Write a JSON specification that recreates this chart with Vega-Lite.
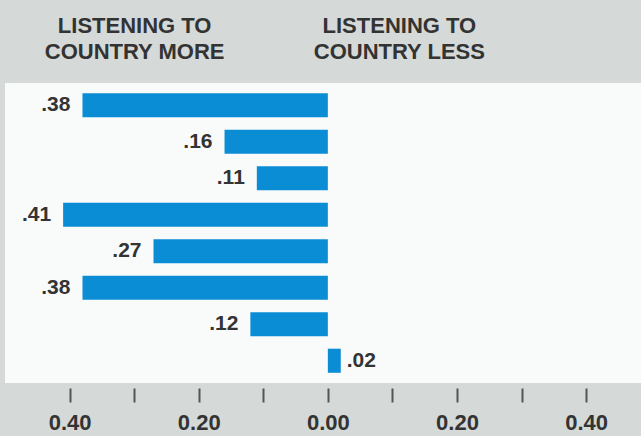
{
  "$schema": "https://vega.github.io/schema/vega-lite/v6.json",
  "width": 636,
  "height": 300,
  "autosize": {"type": "none"},
  "padding": {"left": 5, "top": 83, "right": 0, "bottom": 53},
  "background": "#d5d9d8",
  "config": {
    "view": {"fill": "#f9fbfb", "stroke": null},
    "font": "Liberation Sans"
  },
  "data": {
    "values": [
      {"row": 1, "value": -0.38},
      {"row": 2, "value": -0.16},
      {"row": 3, "value": -0.11},
      {"row": 4, "value": -0.41},
      {"row": 5, "value": -0.27},
      {"row": 6, "value": -0.38},
      {"row": 7, "value": -0.12},
      {"row": 8, "value": 0.02}
    ]
  },
  "transform": [
    {"calculate": "replace(format(abs(datum.value), '.2f'), '0.', '.')", "as": "label"}
  ],
  "encoding": {
    "y": {
      "field": "row",
      "type": "ordinal",
      "axis": null,
      "scale": {"paddingInner": 0.34, "paddingOuter": 0.28}
    }
  },
  "layer": [
    {
      "mark": {"type": "bar", "color": "#0a8dd4"},
      "encoding": {
        "x": {
          "field": "value",
          "type": "quantitative",
          "scale": {"domain": [-0.5, 0.485], "nice": false, "zero": false},
          "axis": {
            "orient": "bottom",
            "title": null,
            "values": [-0.4, -0.3, -0.2, -0.1, 0, 0.1, 0.2, 0.3, 0.4],
            "labelExpr": "round(abs(datum.value) * 10) % 2 == 0 ? format(abs(datum.value), '.2f') : ''",
            "grid": false,
            "domain": false,
            "offset": 5,
            "tickSize": 14,
            "tickWidth": 2,
            "tickColor": "#555555",
            "labelFont": "Liberation Sans",
            "labelFontWeight": "bold",
            "labelFontSize": 22,
            "labelColor": "#333333",
            "labelPadding": 10,
            "labelFlush": false,
            "labelOverlap": false
          }
        }
      }
    },
    {
      "transform": [{"filter": "datum.value < 0"}],
      "mark": {"type": "text", "align": "right", "baseline": "middle", "dx": -12, "fontSize": 21, "fontWeight": "bold", "color": "#333333"},
      "encoding": {
        "x": {
          "field": "value",
          "type": "quantitative",
          "axis": {
            "orient": "top",
            "title": null,
            "values": [-0.3, 0.11],
            "labelExpr": "datum.value < 0 ? ['LISTENING TO', 'COUNTRY MORE'] : ['LISTENING TO', 'COUNTRY LESS']",
            "ticks": false,
            "domain": false,
            "grid": false,
            "labelFont": "Liberation Sans",
            "labelFontWeight": "bold",
            "labelFontSize": 22,
            "labelColor": "#333333",
            "labelPadding": 46,
            "labelLineHeight": 26,
            "labelLimit": 0,
            "labelFlush": false,
            "labelOverlap": false
          }
        },
        "text": {"field": "label"}
      }
    },
    {
      "transform": [{"filter": "datum.value > 0"}],
      "mark": {"type": "text", "align": "left", "baseline": "middle", "dx": 6, "fontSize": 21, "fontWeight": "bold", "color": "#333333"},
      "encoding": {
        "x": {"field": "value", "type": "quantitative", "axis": null},
        "text": {"field": "label"}
      }
    }
  ],
  "resolve": {"axis": {"x": "independent"}}
}
